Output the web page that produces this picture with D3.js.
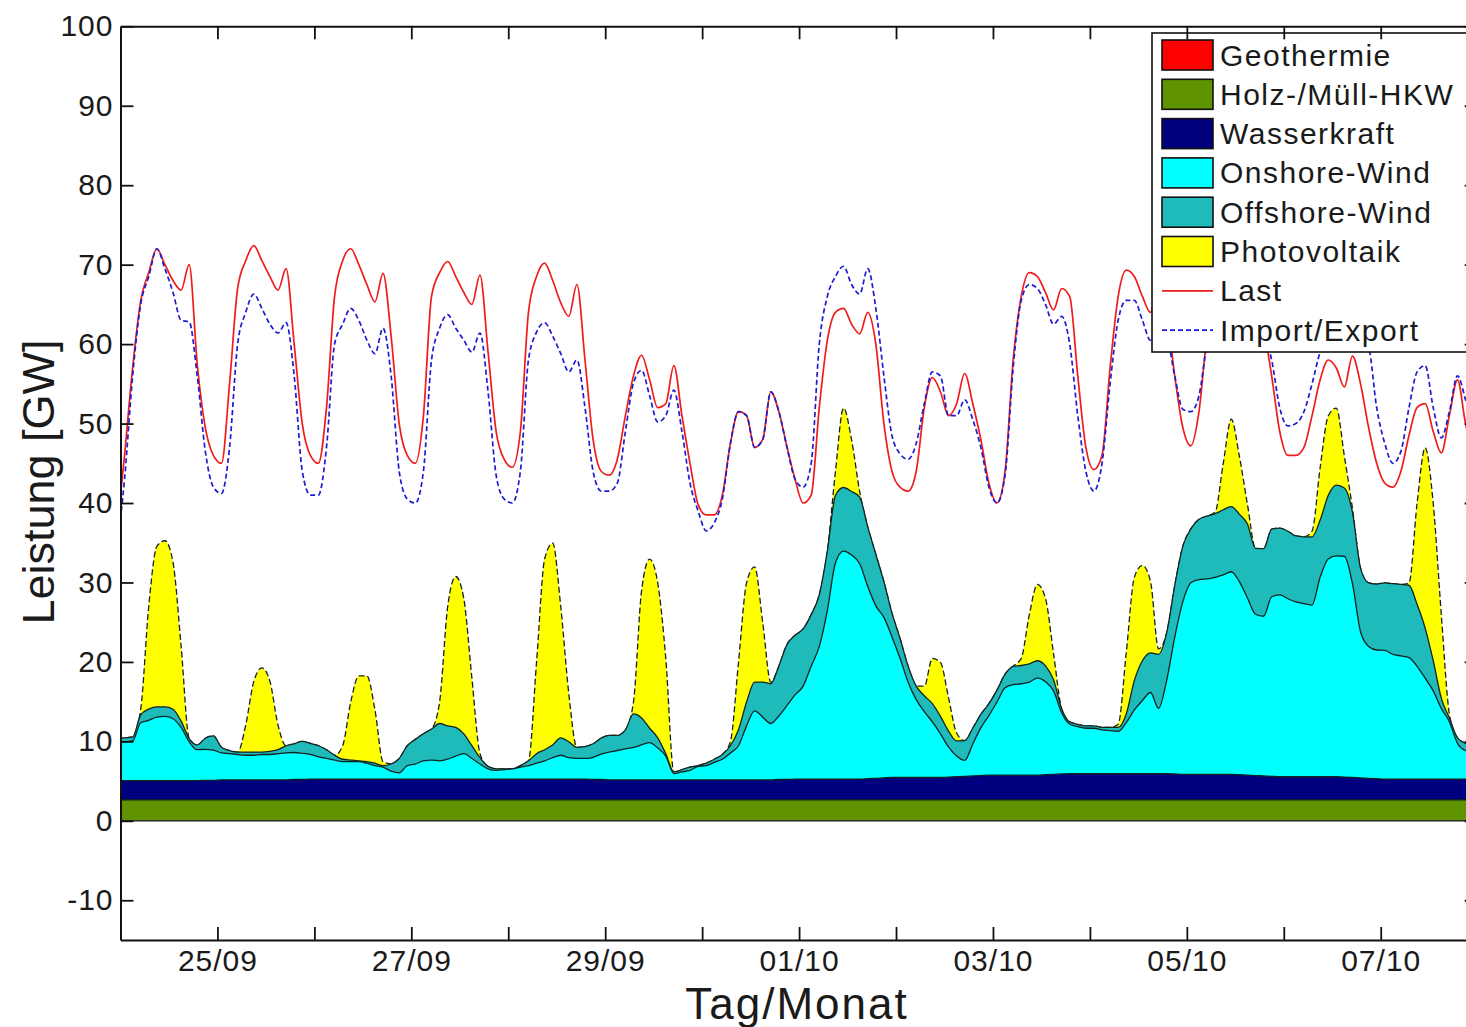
<!DOCTYPE html>
<html>
<head>
<meta charset="utf-8">
<script src="https://cdn.jsdelivr.net/npm/d3@7"></script>
<style>
  body { margin: 0; background: #fff; }
  svg { display: block; font-family: 'Liberation Sans', Arial, sans-serif; }
</style>
</head>
<body>
<div id="chart"></div>
<script>
// sample times: hours after 24/09 00:00, every 2 h
const hours = d3.range(-1, 336, 2)

const tickHours = d3.range(24, 336, 24)
const tickLabels = ['25/09', '', '27/09', '', '29/09', '', '01/10', '', '03/10', '', '05/10', '', '07/10']
const yTicks = d3.range(-10, 101, 10)

// GW, flat over the period
const geothermieGW = 0.05
const holzGW = 2.6

// one row per day (12 samples), first value = hour -1
const wasserkraft = [2.4,
  2.4, 2.4, 2.4, 2.4, 2.4, 2.4, 2.4, 2.4, 2.4, 2.4, 2.45, 2.45,
  2.5, 2.5, 2.5, 2.5, 2.5, 2.5, 2.5, 2.5, 2.5, 2.55, 2.55, 2.6,
  2.6, 2.6, 2.6, 2.6, 2.6, 2.6, 2.6, 2.6, 2.6, 2.6, 2.6, 2.6,
  2.6, 2.6, 2.6, 2.6, 2.6, 2.6, 2.6, 2.6, 2.6, 2.6, 2.6, 2.6,
  2.6, 2.6, 2.6, 2.6, 2.6, 2.6, 2.6, 2.6, 2.6, 2.6, 2.55, 2.55,
  2.5, 2.5, 2.5, 2.5, 2.5, 2.5, 2.5, 2.5, 2.5, 2.5, 2.5, 2.5,
  2.5, 2.5, 2.5, 2.5, 2.5, 2.5, 2.5, 2.5, 2.5, 2.55, 2.55, 2.6,
  2.6, 2.6, 2.6, 2.6, 2.6, 2.6, 2.6, 2.6, 2.65, 2.7, 2.75, 2.8,
  2.8, 2.8, 2.8, 2.8, 2.8, 2.8, 2.85, 2.9, 2.95, 3.0, 3.05, 3.1,
  3.1, 3.1, 3.1, 3.1, 3.1, 3.1, 3.15, 3.2, 3.25, 3.3, 3.3, 3.3,
  3.3, 3.3, 3.3, 3.3, 3.3, 3.3, 3.3, 3.3, 3.3, 3.3, 3.25, 3.2,
  3.2, 3.2, 3.2, 3.2, 3.2, 3.2, 3.15, 3.1, 3.05, 3.0, 2.95, 2.9,
  2.9, 2.9, 2.9, 2.9, 2.9, 2.9, 2.9, 2.85, 2.8, 2.75, 2.7, 2.65,
  2.6, 2.6, 2.6, 2.6, 2.6, 2.6, 2.6, 2.6, 2.6, 2.6, 2.6, 2.6]

const onshore = [4.8,
  4.9, 5.0, 7.3, 7.6, 8.0, 8.1, 7.8, 6.7, 4.9, 3.9, 3.9, 3.8,
  3.4, 3.3, 3.2, 3.1, 3.1, 3.2, 3.2, 3.3, 3.4, 3.4, 3.3, 3.1,
  2.8, 2.6, 2.4, 2.2, 2.2, 2.2, 2.0, 1.7, 1.5, 1.0, 0.8, 1.7,
  1.9, 2.3, 2.4, 2.3, 2.5, 2.9, 3.2, 2.6, 1.9, 1.3, 1.1, 1.2,
  1.3, 1.5, 1.7, 2.0, 2.3, 2.7, 3.0, 2.7, 2.6, 2.6, 2.8, 3.2,
  3.5, 3.7, 3.9, 4.1, 4.4, 4.7, 4.0, 3.0, 0.8, 1.0, 1.2, 1.7,
  1.8, 2.2, 2.6, 3.4, 4.3, 6.8, 8.7, 7.9, 7.1, 8.0, 9.3, 10.6,
  11.7, 14.2, 16.7, 21.2, 27.2, 28.7, 28.2, 27.1, 24.2, 21.7, 20.2, 17.7,
  15.0, 12.0, 9.8, 8.3, 7.0, 5.5, 3.8, 2.6, 2.0, 4.0, 6.0, 7.5,
  9.2, 11.0, 11.4, 11.5, 11.7, 12.2, 11.7, 10.5, 7.7, 6.2, 5.9, 5.7,
  5.7, 5.5, 5.4, 5.3, 6.4, 8.0, 9.2, 10.2, 8.2, 11.7, 17.2, 21.7,
  24.1, 24.5, 24.6, 24.8, 25.1, 25.5, 24.3, 22.3, 20.3, 20.1, 22.6, 22.9,
  22.4, 22.0, 21.8, 21.6, 25.1, 27.4, 27.8, 27.8, 24.4, 18.4, 16.6, 16.2,
  16.2, 15.7, 15.5, 15.3, 14.2, 12.7, 11.1, 8.9, 7.2, 4.5, 3.6, 3.4]

const offshore = [0.5,
  0.5, 0.5, 1.0, 1.4, 1.3, 1.2, 1.2, 0.8, 0.4, 0.6, 1.4, 1.8,
  0.7, 0.4, 0.3, 0.4, 0.4, 0.3, 0.4, 0.5, 0.9, 1.1, 1.5, 1.4,
  1.4, 1.1, 0.6, 0.3, 0.2, 0.1, 0.2, 0.3, 0.2, 0.9, 1.8, 2.5,
  3.1, 3.4, 3.9, 4.7, 4.2, 3.6, 2.5, 1.6, 0.8, 0.3, 0.2, 0.1,
  0.0, 0.2, 0.6, 1.2, 1.4, 1.6, 2.2, 2.0, 1.4, 1.5, 1.7, 2.0,
  2.1, 1.9, 2.4, 4.2, 3.4, 1.8, 1.3, 0.3, 0.2, 0.3, 0.4, 0.1,
  0.3, 0.4, 0.6, 0.9, 2.0, 3.0, 3.6, 4.4, 5.0, 6.3, 7.7, 7.5,
  7.2, 6.5, 6.5, 7.5, 8.5, 8.0, 8.0, 8.4, 7.5, 6.5, 4.5, 3.0,
  2.5, 2.0, 1.7, 2.0, 2.3, 2.2, 2.0, 1.9, 2.5, 2.0, 1.7, 1.5,
  1.5, 1.7, 2.3, 2.3, 2.3, 2.2, 2.0, 1.4, 0.5, 0.3, 0.3, 0.3,
  0.3, 0.3, 0.4, 0.5, 1.1, 3.7, 5.0, 5.0, 6.8, 6.0, 6.5, 7.0,
  6.8, 7.6, 7.9, 8.0, 8.2, 8.2, 8.5, 9.3, 8.3, 8.5, 8.5, 8.4,
  8.5, 8.3, 8.4, 8.6, 7.2, 8.0, 8.9, 8.6, 9.0, 8.0, 8.0, 8.3,
  8.5, 8.9, 9.0, 9.1, 7.8, 6.3, 3.8, 1.3, 0.5, 0.7, 0.9, 0.9]

const photovoltaik = [0,
  0, 0, 0.7, 13, 20.2, 20.9, 18.5, 9.5, 0, 0, 0, 0,
  0, 0, 0, 3.4, 8.9, 10.6, 8.8, 3.1, 0, 0, 0, 0,
  0, 0, 0, 1.7, 7.3, 10.7, 10.8, 6.7, 0.5, 0, 0, 0,
  0, 0, 0, 2.7, 15, 19, 17, 8.5, 0.5, 0, 0, 0,
  0, 0, 0, 11.5, 24, 25.4, 16.5, 6, 0, 0, 0, 0,
  0, 0, 0, 1.5, 16, 21.3, 19.5, 12, 0, 0, 0, 0,
  0, 0, 0, 0.5, 8.5, 15, 14.5, 7.5, 0.2, 0, 0, 0,
  0, 0, 0, 0, 3, 10, 6.5, 0.7, 0, 0, 0, 0,
  0, 0, 0, 1.2, 5.7, 6.8, 4.2, 1.0, 0, 0, 0, 0,
  0, 0, 0, 0.9, 6.2, 9.6, 8.5, 3.3, 0, 0, 0, 0,
  0, 0, 0, 0.4, 7.7, 13, 12, 9, 0.7, 0, 0, 0,
  0, 0, 0, 0.2, 5.8, 11, 7.3, 2.5, 0, 0, 0, 0,
  0, 0, 0, 0.7, 6.6, 10, 9.7, 4, 0.5, 0, 0, 0,
  0, 0, 0, 0.3, 12.7, 22.7, 19.8, 10.5, 0.5, 0, 0, 0]

const last = [36,
  46, 57, 65.5, 69, 72, 70, 68, 66.8, 70, 57.5, 49.5, 46,
  45, 55, 67, 70.5, 72.4, 70.5, 68.5, 66.8, 69.5, 60, 50, 46,
  45, 52, 66, 70.5, 72, 70, 67.5, 65.3, 68.9, 61, 50, 46,
  45, 51, 66, 69, 70.4, 68.5, 66.5, 65, 68.7, 59, 49, 45.5,
  44.5, 49, 64, 68.5, 70.2, 68, 65.2, 63.5, 67.5, 58, 48, 44,
  43.5, 45.5, 51, 56, 58.6, 55.5, 52, 52.5, 57.3, 51, 45, 39.8,
  38.5, 38.5, 41, 47.5, 51.5, 51, 47, 48, 54, 51.5, 47.1, 43,
  40, 41, 52, 60.5, 64, 64.5, 62.5, 61.3, 64, 60, 50, 44,
  42, 41.5, 44, 52, 55.8, 54, 51, 52.5, 56.3, 52.5, 48, 42.5,
  40, 44, 58, 66, 69, 68.5, 66.5, 64.3, 67, 66, 56, 47,
  44.2, 46, 57, 66, 69.3, 68.5, 66, 64, 67.5, 64, 56, 49.5,
  47.2, 51.5, 61, 66, 67.5, 66.5, 64.5, 62.5, 65, 62, 56, 49,
  46, 46, 47, 51, 55.5, 58, 57, 54.6, 58.5, 55, 49.5, 45,
  42.5, 42, 44, 48.5, 52, 52.5, 49, 46.3, 51, 55.5, 50, 46]

const importExport = [34,
  43, 56, 65, 68.5, 72, 69.5, 66.5, 63, 62.8, 56, 46.5, 42,
  41.2, 47, 60, 64, 66.3, 64.5, 62.5, 61.4, 62.7, 56, 44, 41,
  41, 47, 60, 62.5, 64.5, 63, 60.5, 58.8, 62, 56, 44, 40.5,
  40, 44, 58, 62, 63.7, 62, 60.5, 59, 61.4, 54, 43.5, 40.5,
  40, 44, 58, 61.5, 62.7, 61, 58.8, 56.5, 58, 52, 44, 41.5,
  41.5, 42.5, 49, 55.1, 56.7, 53.5, 50.2, 51, 54.2, 49, 42.5, 39,
  36.5, 37.5, 40.5, 47.5, 51.5, 51, 47, 48, 54, 51.5, 47, 43,
  42, 45, 60, 66, 68.5, 69.8, 67.5, 66.3, 69.5, 64.5, 56, 48.5,
  46.2, 45.5, 47.5, 52.5, 56.5, 56, 51, 51, 53, 50.5, 47, 42,
  40, 43.5, 57, 65.5, 67.5, 67, 65, 62.5, 63.5, 60, 51, 44,
  41.5, 45, 55, 63, 65.5, 65.5, 63, 60.5, 62, 61, 56, 51.8,
  51.5, 53.5, 60, 63, 64.5, 64, 62.5, 61, 63, 61.5, 58, 52,
  49.7, 50, 51.5, 55, 59, 61, 61, 60, 61, 60.5, 59.5, 52,
  47.5, 45, 46.5, 52, 56.5, 57.3, 52, 48.2, 51.5, 56, 53, 49]

const keys = ['geo', 'holz', 'wasser', 'onshore', 'offshore', 'pv']
const names = ['Geothermie', 'Holz-/Müll-HKW', 'Wasserkraft', 'Onshore-Wind', 'Offshore-Wind', 'Photovoltaik']
const colors = ['#ff0000', '#5f9400', '#00007f', '#00ffff', '#1fbaba', '#ffff00']

const width = 1466
const height = 1027
const plotLeft = 120.5
const plotRight = plotLeft + 96.94 * 14
const plotTop = 26.3
const plotBottom = 940

const x = d3.scaleLinear().domain([0, 336]).range([plotLeft, plotRight])
const y = d3.scaleLinear().domain([-15, 100]).range([plotBottom, plotTop])

const svg = d3.select('#chart')
  .append('svg')
  .attr('width', width)
  .attr('height', height)

svg.append('defs').append('clipPath').attr('id', 'plot')
  .append('rect').attr('x', plotLeft).attr('y', plotTop)
  .attr('width', plotRight - plotLeft).attr('height', plotBottom - plotTop)

const rows = hours.map((t, i) => ({
  t,
  geo: geothermieGW,
  holz: holzGW,
  wasser: wasserkraft[i],
  onshore: onshore[i],
  offshore: offshore[i],
  pv: photovoltaik[i]
}))
const layers = d3.stack().keys(keys)(rows)

const g = svg.append('g').attr('clip-path', 'url(#plot)')

const curve = d3.curveMonotoneX
const area = d3.area().curve(curve).x(d => x(d.data.t)).y0(y(0)).y1(d => y(d[1]))
const topLine = d3.line().curve(curve).x(d => x(d.data.t)).y(d => y(d[1]))

// painter order: highest cumulative layer first
layers.slice().reverse().forEach(layer => {
  const i = keys.indexOf(layer.key)
  g.append('path').datum(layer).attr('d', area).attr('fill', colors[i])
  if (layer.key === 'geo') return
  g.append('path').datum(layer).attr('d', topLine)
    .attr('fill', 'none')
    .attr('stroke', '#132222')
    .attr('stroke-width', 1.3)
    .attr('stroke-dasharray', layer.key === 'pv' ? '6,3' : null)
})
g.append('line').attr('x1', plotLeft).attr('x2', plotRight).attr('y1', y(0)).attr('y2', y(0))
  .attr('stroke', '#132222').attr('stroke-width', 1.3)

const line = d3.line().curve(curve).x((d, i) => x(hours[i])).y(d => y(d))
g.append('path').datum(last).attr('d', line)
  .attr('fill', 'none').attr('stroke', '#f01c1c').attr('stroke-width', 1.7)
g.append('path').datum(importExport).attr('d', line)
  .attr('fill', 'none').attr('stroke', '#1c1cd2').attr('stroke-width', 1.7)
  .attr('stroke-dasharray', '5,3')

// legend
const lg = svg.append('g')
lg.append('rect').attr('x', 1152).attr('y', 33).attr('width', 340).attr('height', 319)
  .attr('fill', '#fff').attr('stroke', '#111').attr('stroke-width', 1.6)
const legendItems = names.map((n, i) => ({ name: n, color: colors[i], type: 'box' }))
legendItems.push({ name: 'Last', color: '#f01c1c', type: 'line' })
legendItems.push({ name: 'Import/Export', color: '#1c1cd2', type: 'dash' })
legendItems.forEach((d, i) => {
  const cy = 55 + i * 39.3
  if (d.type === 'box') {
    lg.append('rect').attr('x', 1162).attr('y', cy - 15).attr('width', 51).attr('height', 30)
      .attr('fill', d.color).attr('stroke', '#111').attr('stroke-width', 1.6)
  } else {
    lg.append('line').attr('x1', 1162).attr('x2', 1213).attr('y1', cy).attr('y2', cy)
      .attr('stroke', d.color).attr('stroke-width', 1.7)
      .attr('stroke-dasharray', d.type === 'dash' ? '5,3' : null)
  }
  lg.append('text').attr('x', 1220).attr('y', cy + 10.5)
    .attr('font-size', 30).attr('letter-spacing', 1.5).attr('fill', '#1a1a1a')
    .text(d.name)
})

// axes (MATLAB style box, ticks pointing inward)
function styleAxis (sel) {
  sel.select('.domain').attr('stroke', '#111').attr('stroke-width', 2)
  sel.selectAll('.tick line').attr('stroke', '#111').attr('stroke-width', 1.8)
  sel.selectAll('.tick text').attr('font-size', 30).attr('letter-spacing', 1)
    .attr('fill', '#1a1a1a').attr('font-family', "'Liberation Sans', Arial, sans-serif")
}

svg.append('g').attr('transform', `translate(0,${plotBottom})`)
  .call(d3.axisBottom(x).tickValues(tickHours).tickFormat((d, i) => tickLabels[i])
    .tickSize(-13).tickSizeOuter(0).tickPadding(10))
  .call(styleAxis)
svg.append('g').attr('transform', `translate(0,${plotTop})`)
  .call(d3.axisTop(x).tickValues(tickHours).tickFormat('').tickSize(-13).tickSizeOuter(0))
  .call(styleAxis)
svg.append('g').attr('transform', `translate(${plotLeft},0)`)
  .call(d3.axisLeft(y).tickValues(yTicks).tickFormat(d => String(d))
    .tickSize(-13).tickSizeOuter(0).tickPadding(7))
  .call(styleAxis)
svg.append('g').attr('transform', `translate(${plotRight},0)`)
  .call(d3.axisRight(y).tickValues(yTicks).tickFormat('').tickSize(-13).tickSizeOuter(0))
  .call(styleAxis)

svg.append('text')
  .attr('transform', 'translate(54,482) rotate(-90)')
  .attr('text-anchor', 'middle').attr('font-size', 45).attr('fill', '#1a1a1a')
  .text('Leistung [GW]')
svg.append('text')
  .attr('x', 797).attr('y', 1019)
  .attr('text-anchor', 'middle').attr('font-size', 44).attr('letter-spacing', 2).attr('fill', '#1a1a1a')
  .text('Tag/Monat')
</script>
</body>
</html>
